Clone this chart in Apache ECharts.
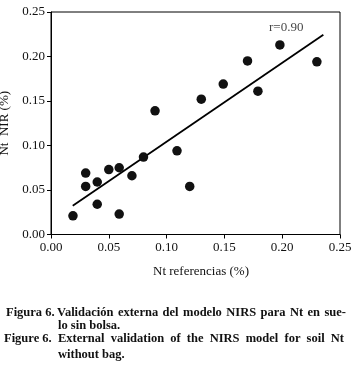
<!DOCTYPE html>
<html>
<head>
<meta charset="utf-8">
<script src="https://cdn.jsdelivr.net/npm/echarts@6/dist/echarts.min.js"></script>
<style>
  html, body { margin: 0; padding: 0; background: #fff; }
  #chart { width: 352px; height: 379px; }
</style>
</head>
<body>
<div id="chart"></div>
<script>
// Nt referencias (%) vs Nt NIR (%)
var ntRef = [0.019, 0.030, 0.030, 0.040, 0.040, 0.050, 0.059, 0.059, 0.070, 0.080,
             0.090, 0.109, 0.120, 0.130, 0.149, 0.170, 0.179, 0.198, 0.230];
var ntNir = [0.021, 0.069, 0.054, 0.059, 0.034, 0.073, 0.075, 0.023, 0.066, 0.087,
             0.139, 0.094, 0.054, 0.152, 0.169, 0.195, 0.161, 0.213, 0.194];

// regression line end points
var fitX = [0.0188, 0.2356];
var fitY = [0.0324, 0.2245];

var rLabel = 'r=0.90';
var rPos = [0.2035, 0.232];

var captionEs = ['Figura 6.', 'Validación externa del modelo NIRS para Nt en sue-', 'lo sin bolsa.'];
var captionEn = ['Figure 6.', 'External validation of the NIRS model for soil Nt', 'without bag.'];

var serif = '"Liberation Serif", "DejaVu Serif", serif';

var points = ntRef.map(function (x, i) { return [x, ntNir[i]]; });
var fitLine = fitX.map(function (x, i) { return [x, fitY[i]]; });

var chart = echarts.init(document.getElementById('chart'), null, { renderer: 'canvas' });

// justified caption text, one word per element
var ctx = document.createElement('canvas').getContext('2d');
function justify(text, x0, x1, y, font, stretch) {
  var words = text.split(' ');
  ctx.font = font;
  if (!stretch || words.length < 2) {
    return [{ type: 'text', left: x0, top: y, style: { text: text, font: font, fill: '#111' } }];
  }
  var total = 0;
  words.forEach(function (w) { total += ctx.measureText(w).width; });
  var gap = (x1 - x0 - total) / (words.length - 1);
  var out = [];
  var x = x0;
  words.forEach(function (w) {
    out.push({ type: 'text', left: x, top: y, style: { text: w, font: font, fill: '#111' } });
    x += ctx.measureText(w).width + gap;
  });
  return out;
}

var capFont = 'bold 12.5px ' + serif;
var graphics = [];
graphics.push({ type: 'text', left: 6, top: 306, style: { text: captionEs[0], font: capFont, fill: '#111' } });
graphics = graphics.concat(justify(captionEs[1], 57, 346, 306, capFont, true));
graphics = graphics.concat(justify(captionEs[2], 58, 0, 319, capFont, false));
graphics.push({ type: 'text', left: 4, top: 332, style: { text: captionEn[0], font: capFont, fill: '#111' } });
graphics = graphics.concat(justify(captionEn[1], 58, 344, 332, capFont, true));
graphics = graphics.concat(justify(captionEn[2], 58, 0, 348, capFont, false));

var option = {
  animation: false,
  backgroundColor: '#fff',
  textStyle: { fontFamily: serif },
  grid: {
    left: 51,
    top: 12,
    right: 12,
    bottom: 144.5,
    outerBoundsMode: 'none',
    containLabel: false,
    show: true,
    borderColor: '#000',
    borderWidth: 1
  },
  xAxis: {
    type: 'value',
    min: 0,
    max: 0.25,
    interval: 0.05,
    name: 'Nt referencias (%)',
    nameLocation: 'middle',
    nameGap: 31,
    nameTextStyle: { fontFamily: serif, fontSize: 13, color: '#111', padding: [0, 0, 0, 11] },
    axisLine: { lineStyle: { color: '#000', width: 1 } },
    axisTick: { show: true, length: 4, lineStyle: { color: '#000' } },
    axisLabel: {
      margin: 7,
      fontFamily: serif, fontSize: 13, color: '#111',
      formatter: function (v) { return v.toFixed(2); }
    },
    splitLine: { show: false }
  },
  yAxis: {
    type: 'value',
    min: 0,
    max: 0.25,
    interval: 0.05,
    name: 'Nt  NIR (%)',
    nameLocation: 'middle',
    nameGap: 35,
    nameTextStyle: { fontFamily: serif, fontSize: 13, color: '#111' },
    axisLine: { lineStyle: { color: '#000', width: 1 } },
    axisTick: { show: true, length: 4, lineStyle: { color: '#000' } },
    axisLabel: {
      margin: 6,
      fontFamily: serif, fontSize: 13, color: '#111',
      formatter: function (v) { return v.toFixed(2); }
    },
    splitLine: { show: false }
  },
  series: [
    {
      name: 'fit',
      type: 'line',
      data: fitLine,
      symbol: 'none',
      lineStyle: { color: '#000', width: 1.8 },
      z: 2
    },
    {
      name: 'obs',
      type: 'scatter',
      data: points,
      symbolSize: 9.5,
      itemStyle: { color: '#111', opacity: 1 },
      z: 3
    },
    {
      name: 'r',
      type: 'scatter',
      data: [rPos],
      symbolSize: 0,
      label: {
        show: true,
        position: 'inside',
        formatter: rLabel,
        fontFamily: serif,
        fontSize: 13,
        color: '#111'
      }
    }
  ],
  graphic: graphics
};

chart.setOption(option);
</script>
</body>
</html>
